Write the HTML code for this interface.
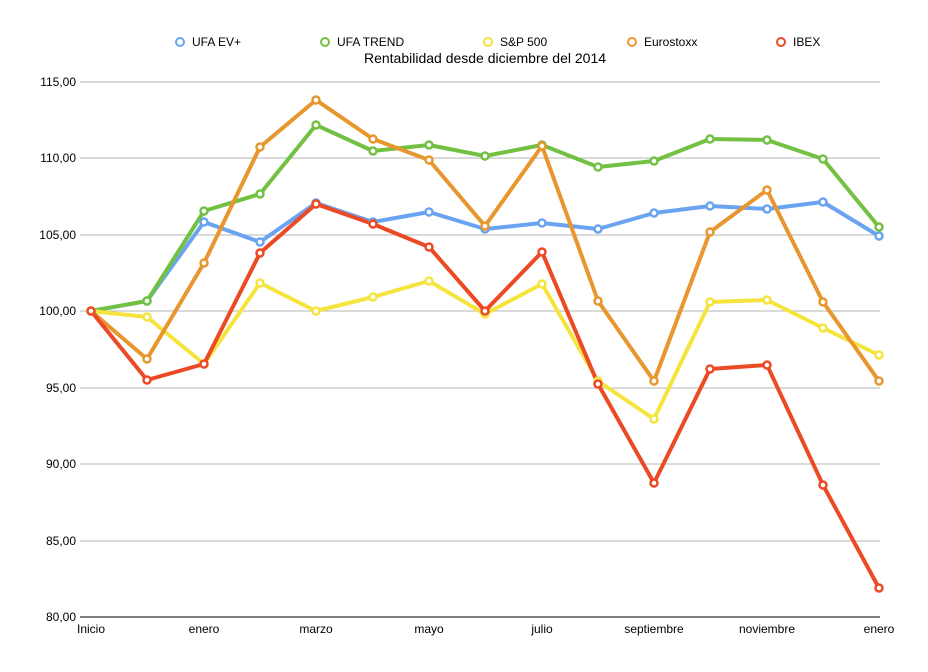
<!DOCTYPE html>
<html><head><meta charset="utf-8"><style>
html,body{margin:0;padding:0;background:#fff;}
svg{display:block;font-family:"Liberation Sans",sans-serif;}
</style></head><body>
<svg width="928" height="672" viewBox="0 0 928 672">
<defs>
<g id="m"><circle r="3.5" fill="#fff" stroke-width="3"/></g>
</defs>
<g stroke="#b5b5b5" stroke-width="1">
<line x1="80" y1="82" x2="880" y2="82"/>
<line x1="80" y1="158" x2="880" y2="158"/>
<line x1="80" y1="235" x2="880" y2="235"/>
<line x1="80" y1="311" x2="880" y2="311"/>
<line x1="80" y1="388" x2="880" y2="388"/>
<line x1="80" y1="464" x2="880" y2="464"/>
<line x1="80" y1="541" x2="880" y2="541"/>
</g>
<line x1="80" y1="617" x2="880" y2="617" stroke="#000" stroke-width="1"/>
<g font-size="12" fill="#000" text-anchor="end">
<text x="76" y="86">115,00</text>
<text x="76" y="162">110,00</text>
<text x="76" y="239">105,00</text>
<text x="76" y="315">100,00</text>
<text x="76" y="392">95,00</text>
<text x="76" y="468">90,00</text>
<text x="76" y="545">85,00</text>
<text x="76" y="621">80,00</text>
</g>
<g font-size="12" fill="#000" text-anchor="middle">
<text x="91" y="633">Inicio</text>
<text x="204" y="633">enero</text>
<text x="316" y="633">marzo</text>
<text x="429" y="633">mayo</text>
<text x="542" y="633">julio</text>
<text x="654" y="633">septiembre</text>
<text x="767" y="633">noviembre</text>
<text x="879" y="633">enero</text>
</g>
<text x="485" y="63" font-size="14" text-anchor="middle">Rentabilidad desde diciembre del 2014</text>
<g font-size="12">
<circle cx="180" cy="42" r="4" fill="#fff" stroke="#6aa4f0" stroke-width="2"/><text x="192" y="46">UFA EV+</text>
<circle cx="325" cy="42" r="4" fill="#fff" stroke="#72c142" stroke-width="2"/><text x="337" y="46">UFA TREND</text>
<circle cx="488" cy="42" r="4" fill="#fff" stroke="#f5e43d" stroke-width="2"/><text x="500" y="46">S&amp;P 500</text>
<circle cx="632" cy="42" r="4" fill="#fff" stroke="#e8962e" stroke-width="2"/><text x="644" y="46">Eurostoxx</text>
<circle cx="781" cy="42" r="4" fill="#fff" stroke="#ec4a25" stroke-width="2"/><text x="793" y="46">IBEX</text>
</g>
<g fill="none" stroke-width="4" stroke-linejoin="round">
<polyline stroke="#6aa4f0" points="91,311 147,301 204,222 260,242 316,203 373,222 429,212 485,229 542,223 598,229 654,213 710,206 767,209 823,202 879,236"/>
<polyline stroke="#72c142" points="91,311 147,301 204,211 260,194 316,125 373,151 429,145 485,156 542,145 598,167 654,161 710,139 767,140 823,159 879,227"/>
<polyline stroke="#f5e43d" points="91,311 147,317 204,364 260,283 316,311 373,297 429,281 485,314 542,284 598,381 654,419 710,302 767,300 823,328 879,355"/>
<polyline stroke="#e8962e" points="91,311 147,359 204,263 260,147 316,100 373,139 429,160 485,226 542,146 598,301 654,381 710,232 767,190 823,302 879,381"/>
<polyline stroke="#ec4a25" points="91,311 147,380 204,364 260,253 316,204 373,224 429,247 485,311 542,252 598,384 654,483 710,369 767,365 823,485 879,588"/>
</g>
<g fill="#fff" stroke-width="2.5">
<g stroke="#6aa4f0">
<circle cx="91" cy="311" r="3.5"/><circle cx="147" cy="301" r="3.5"/><circle cx="204" cy="222" r="3.5"/><circle cx="260" cy="242" r="3.5"/><circle cx="316" cy="203" r="3.5"/><circle cx="373" cy="222" r="3.5"/><circle cx="429" cy="212" r="3.5"/><circle cx="485" cy="229" r="3.5"/><circle cx="542" cy="223" r="3.5"/><circle cx="598" cy="229" r="3.5"/><circle cx="654" cy="213" r="3.5"/><circle cx="710" cy="206" r="3.5"/><circle cx="767" cy="209" r="3.5"/><circle cx="823" cy="202" r="3.5"/><circle cx="879" cy="236" r="3.5"/>
</g>
<g stroke="#72c142">
<circle cx="91" cy="311" r="3.5"/><circle cx="147" cy="301" r="3.5"/><circle cx="204" cy="211" r="3.5"/><circle cx="260" cy="194" r="3.5"/><circle cx="316" cy="125" r="3.5"/><circle cx="373" cy="151" r="3.5"/><circle cx="429" cy="145" r="3.5"/><circle cx="485" cy="156" r="3.5"/><circle cx="542" cy="145" r="3.5"/><circle cx="598" cy="167" r="3.5"/><circle cx="654" cy="161" r="3.5"/><circle cx="710" cy="139" r="3.5"/><circle cx="767" cy="140" r="3.5"/><circle cx="823" cy="159" r="3.5"/><circle cx="879" cy="227" r="3.5"/>
</g>
<g stroke="#f5e43d">
<circle cx="91" cy="311" r="3.5"/><circle cx="147" cy="317" r="3.5"/><circle cx="204" cy="364" r="3.5"/><circle cx="260" cy="283" r="3.5"/><circle cx="316" cy="311" r="3.5"/><circle cx="373" cy="297" r="3.5"/><circle cx="429" cy="281" r="3.5"/><circle cx="485" cy="314" r="3.5"/><circle cx="542" cy="284" r="3.5"/><circle cx="598" cy="381" r="3.5"/><circle cx="654" cy="419" r="3.5"/><circle cx="710" cy="302" r="3.5"/><circle cx="767" cy="300" r="3.5"/><circle cx="823" cy="328" r="3.5"/><circle cx="879" cy="355" r="3.5"/>
</g>
<g stroke="#e8962e">
<circle cx="91" cy="311" r="3.5"/><circle cx="147" cy="359" r="3.5"/><circle cx="204" cy="263" r="3.5"/><circle cx="260" cy="147" r="3.5"/><circle cx="316" cy="100" r="3.5"/><circle cx="373" cy="139" r="3.5"/><circle cx="429" cy="160" r="3.5"/><circle cx="485" cy="226" r="3.5"/><circle cx="542" cy="146" r="3.5"/><circle cx="598" cy="301" r="3.5"/><circle cx="654" cy="381" r="3.5"/><circle cx="710" cy="232" r="3.5"/><circle cx="767" cy="190" r="3.5"/><circle cx="823" cy="302" r="3.5"/><circle cx="879" cy="381" r="3.5"/>
</g>
<g stroke="#ec4a25">
<circle cx="91" cy="311" r="3.5"/><circle cx="147" cy="380" r="3.5"/><circle cx="204" cy="364" r="3.5"/><circle cx="260" cy="253" r="3.5"/><circle cx="316" cy="204" r="3.5"/><circle cx="373" cy="224" r="3.5"/><circle cx="429" cy="247" r="3.5"/><circle cx="485" cy="311" r="3.5"/><circle cx="542" cy="252" r="3.5"/><circle cx="598" cy="384" r="3.5"/><circle cx="654" cy="483" r="3.5"/><circle cx="710" cy="369" r="3.5"/><circle cx="767" cy="365" r="3.5"/><circle cx="823" cy="485" r="3.5"/><circle cx="879" cy="588" r="3.5"/>
</g>
</g>
</svg>
</body></html>
